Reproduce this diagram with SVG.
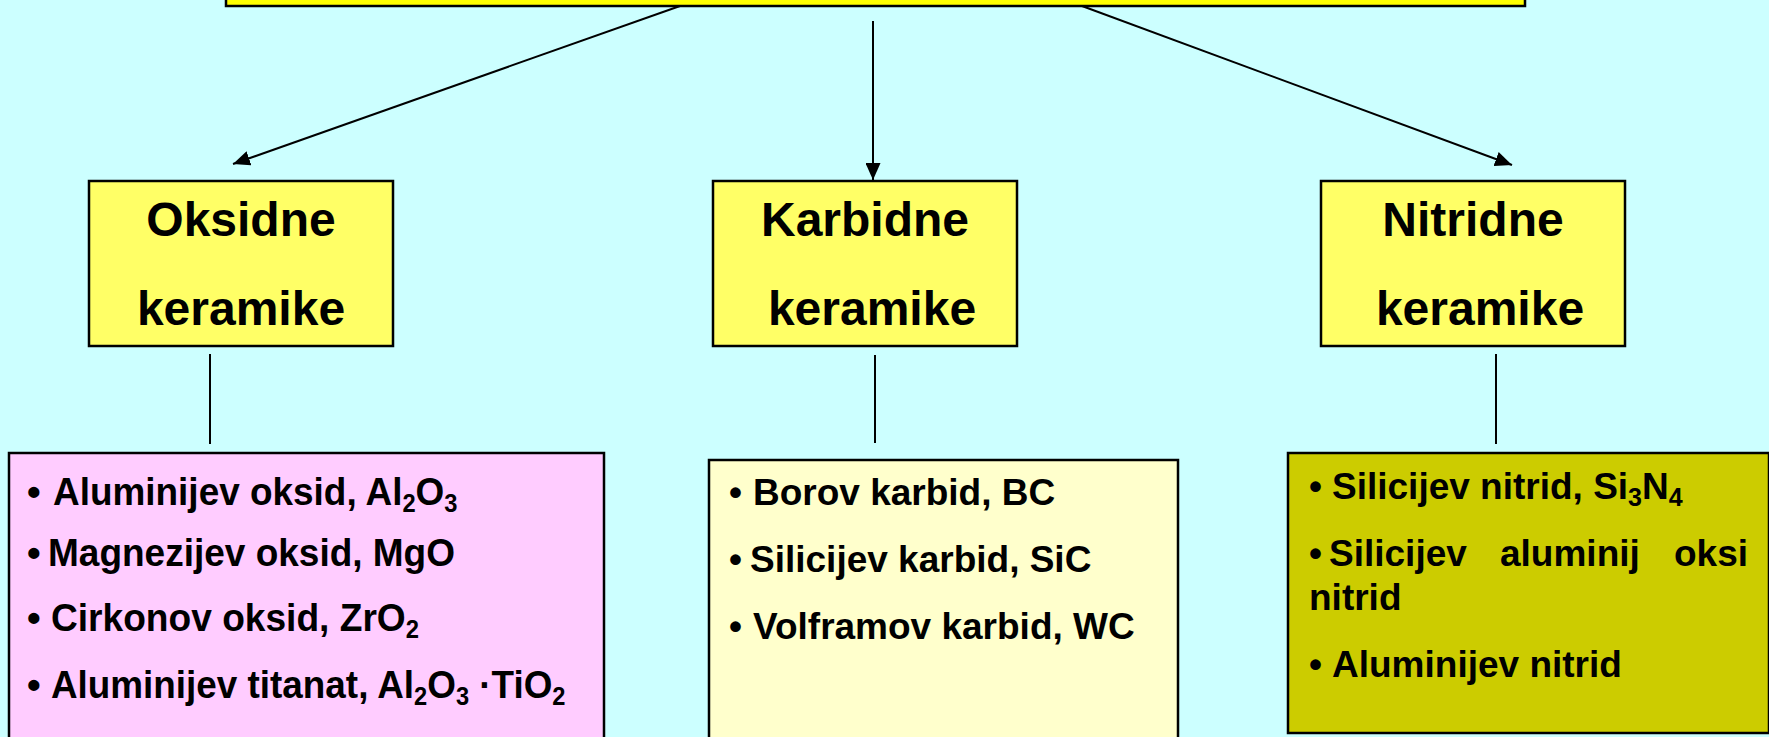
<svg xmlns="http://www.w3.org/2000/svg" width="1769" height="737" viewBox="0 0 1769 737">
<style>
.box{stroke:#000;stroke-width:2.5}
.hdr{font-family:"Liberation Sans",Arial,sans-serif;font-weight:bold;font-size:48px;fill:#000;text-anchor:middle}
.li{font-family:"Liberation Sans",Arial,sans-serif;font-weight:bold;font-size:37px;fill:#000}
.lp{font-family:"Liberation Sans",Arial,sans-serif;font-weight:bold;font-size:39px;fill:#000}
.sub{font-size:25px}
.con{stroke:#000;stroke-width:2;fill:none}
</style>
<defs>
<marker id="ah" markerUnits="userSpaceOnUse" viewBox="0 0 17 15" refX="17" refY="7.5" markerWidth="17" markerHeight="15" orient="auto">
<path d="M0,0 L17,7.5 L0,15 z" fill="#000"/>
</marker>
</defs>
<rect x="0" y="0" width="1769" height="737" fill="#CCFFFF"/>
<g id="top">
<rect class="box" x="226" y="-20" width="1299" height="26" fill="#FFFF00"/>
</g>
<g id="connectors">
<line class="con" x1="680" y1="6" x2="233" y2="164" marker-end="url(#ah)"/>
<line class="con" x1="873" y1="21" x2="873" y2="180" marker-end="url(#ah)"/>
<line class="con" x1="1082" y1="6" x2="1512" y2="165" marker-end="url(#ah)"/>
<line class="con" x1="210" y1="354" x2="210" y2="444"/>
<line class="con" x1="875" y1="355" x2="875" y2="443"/>
<line class="con" x1="1496" y1="354" x2="1496" y2="444"/>
</g>
<g id="oksidne">
<rect class="box" x="89" y="181" width="304" height="165" fill="#FFFF66"/>
<text class="hdr" x="241" y="236">Oksidne</text>
<text class="hdr" x="241" y="325">keramike</text>
</g>
<g id="karbidne">
<rect class="box" x="713" y="181" width="304" height="165" fill="#FFFF66"/>
<text class="hdr" x="865" y="236">Karbidne</text>
<text class="hdr" x="872" y="325">keramike</text>
</g>
<g id="nitridne">
<rect class="box" x="1321" y="181" width="304" height="165" fill="#FFFF66"/>
<text class="hdr" x="1473" y="236">Nitridne</text>
<text class="hdr" x="1480" y="325">keramike</text>
</g>
<g id="oksidi">
<rect class="box" x="9" y="453" width="595" height="300" fill="#FFCCFF"/>
<text class="lp" x="27" y="505">•</text>
<text class="lp" transform="translate(53,505) scale(0.947,1)">Aluminijev oksid, Al<tspan class="sub" dy="7">2</tspan><tspan dy="-7">O</tspan><tspan class="sub" dy="7">3</tspan></text>
<text class="lp" x="27" y="566">•</text>
<text class="lp" transform="translate(48,566) scale(0.949,1)">Magnezijev oksid, MgO</text>
<text class="lp" x="27" y="631">•</text>
<text class="lp" transform="translate(51,631) scale(0.952,1)">Cirkonov oksid, ZrO<tspan class="sub" dy="7">2</tspan></text>
<text class="lp" x="27" y="698">•</text>
<text class="lp" transform="translate(51,698) scale(0.945,1)">Aluminijev titanat, Al<tspan class="sub" dy="7">2</tspan><tspan dy="-7">O</tspan><tspan class="sub" dy="7">3</tspan><tspan dy="-7"> ·TiO</tspan><tspan class="sub" dy="7">2</tspan></text>
</g>
<g id="karbidi">
<rect class="box" x="709" y="460" width="469" height="300" fill="#FFFFCC"/>
<text class="li" y="505"><tspan x="729">•</tspan><tspan x="753">Borov karbid, BC</tspan></text>
<text class="li" y="572"><tspan x="729">•</tspan><tspan x="750">Silicijev karbid, SiC</tspan></text>
<text class="li" y="639"><tspan x="729">•</tspan><tspan x="753">Volframov karbid, WC</tspan></text>
</g>
<g id="nitridi">
<rect class="box" x="1288" y="453" width="481" height="280" fill="#CCCC00"/>
<text class="li" y="499"><tspan x="1309">•</tspan><tspan x="1332">Silicijev nitrid, Si</tspan><tspan class="sub" dy="7">3</tspan><tspan dy="-7">N</tspan><tspan class="sub" dy="7">4</tspan></text>
<text class="li" y="566"><tspan x="1309">•</tspan><tspan x="1329">Silicijev</tspan><tspan x="1500">aluminij</tspan><tspan x="1674">oksi</tspan></text>
<text class="li" x="1309" y="610">nitrid</text>
<text class="li" y="677"><tspan x="1309">•</tspan><tspan x="1332">Aluminijev nitrid</tspan></text>
</g>
</svg>
